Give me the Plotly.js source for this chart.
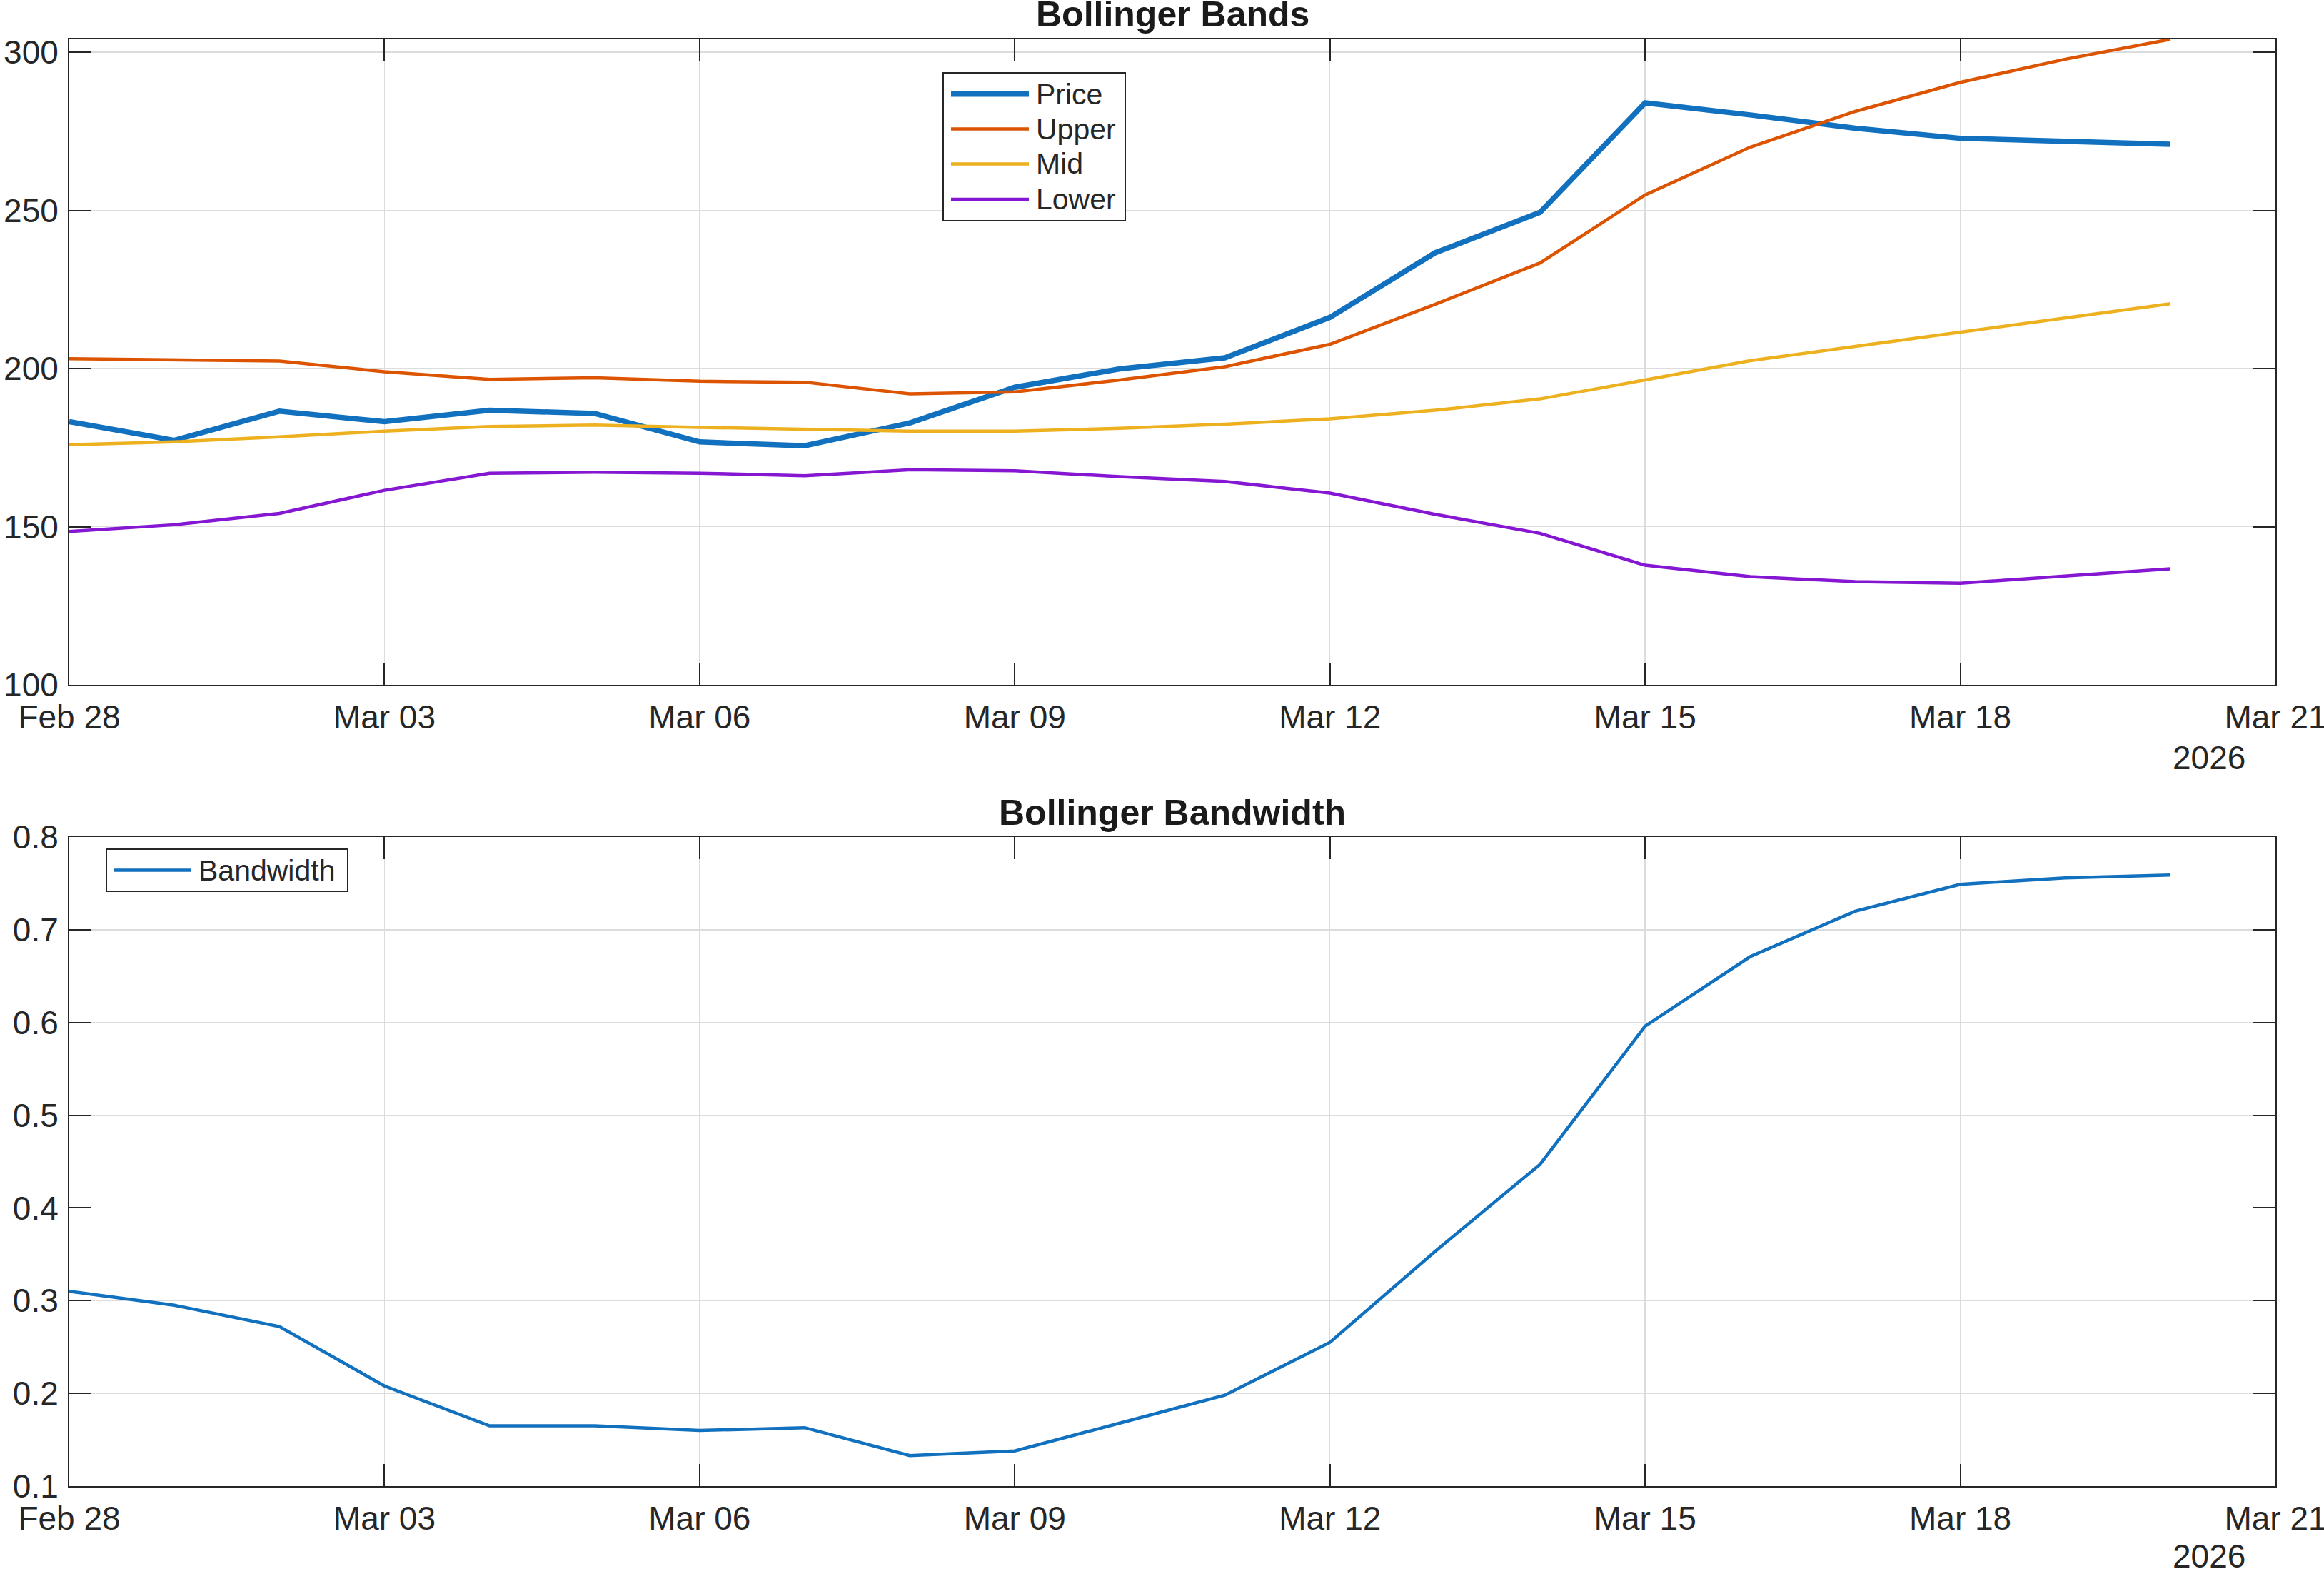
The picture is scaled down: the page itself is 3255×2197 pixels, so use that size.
<!DOCTYPE html>
<html>
<head>
<meta charset="utf-8">
<script src="https://cdn.plot.ly/plotly-3.0.1.min.js"></script>
<style>html,body{margin:0;padding:0;background:#fff;}#chart{width:3255px;height:2197px;}</style>
</head>
<body>
<div id="chart"></div>
<script>
// ---- data ----
const dates = ["2026-02-28","2026-03-01","2026-03-02","2026-03-03","2026-03-04","2026-03-05","2026-03-06",
               "2026-03-07","2026-03-08","2026-03-09","2026-03-10","2026-03-11","2026-03-12","2026-03-13",
               "2026-03-14","2026-03-15","2026-03-16","2026-03-17","2026-03-18","2026-03-19","2026-03-20"];
const price = [183.2,177.3,186.5,183.2,186.8,185.8,176.8,175.6,182.8,194.1,199.9,203.4,216.2,236.6,249.4,284.0,280.2,276.0,272.8,271.7,270.9];
const upper = [203.1,202.8,202.4,199.0,196.6,197.1,196.0,195.7,192.0,192.6,196.4,200.6,207.7,220.3,233.4,254.9,270.0,281.3,290.5,297.8,304.1];
const mid   = [175.9,176.8,178.4,180.2,181.7,182.1,181.4,180.9,180.2,180.2,181.1,182.4,184.1,186.8,190.4,196.4,202.5,207.0,211.5,216.0,220.5];
const lower = [148.5,150.6,154.2,161.5,166.9,167.2,166.9,166.1,168.0,167.7,165.8,164.3,160.6,153.9,147.9,137.8,134.2,132.6,132.1,134.5,136.7];
const bandwidth = [0.310,0.295,0.272,0.208,0.165,0.165,0.160,0.163,0.133,0.138,0.168,0.198,0.255,0.353,0.447,0.596,0.671,0.720,0.749,0.756,0.759];
const bandNames = ["Price","Upper","Mid","Lower"];
const bwName = "Bandwidth";
const titles = ["Bollinger Bands","Bollinger Bandwidth"];
const yearLabel = "2026";

// ---- style ----
const W = 3255, H = 2197;
const L = 97, R = 3187, T1 = 55, B1 = 959, T2 = 1172, B2 = 2081;
const colors = ["#1171BE","#DD5400","#EDB120","#8516D1"];
const widths = [7.5, 4.5, 4.5, 4.5];
const FONT = "Liberation Sans, Arial, Helvetica, sans-serif";
const AX = "#262626";
const px = x => x / W;
const py = y => 1 - y / H;

const series = [price, upper, mid, lower];
const traces = series.map((s, i) => ({
  type: "scatter", mode: "lines", x: dates, y: s, name: bandNames[i],
  xaxis: "x", yaxis: "y", showlegend: false,
  line: {color: colors[i], width: widths[i]}
}));
traces.push({
  type: "scatter", mode: "lines", x: dates, y: bandwidth, name: bwName,
  xaxis: "x2", yaxis: "y2", showlegend: false,
  line: {color: colors[0], width: 4.5}
});

function xax(anchor, dom) {
  return {
    type: "date", domain: dom, anchor: anchor,
    range: ["2026-02-28", "2026-03-21 00:00:01"],
    tick0: "2026-02-28", dtick: 3 * 86400000, tickformat: "%b %d",
    ticks: "inside", ticklen: 31, tickwidth: 2, tickcolor: AX,
    showline: true, linewidth: 2, linecolor: AX, mirror: "ticks",
    showgrid: true, gridcolor: "#dcdcdc", gridwidth: 1.5, zeroline: false,
    ticklabelstandoff: 4, ticklabeloverflow: "allow",
    tickfont: {family: FONT, size: 46, color: AX}, automargin: false
  };
}
function yax(anchor, dom, range, dtick, fmt) {
  return {
    domain: dom, anchor: anchor, range: range, tick0: range[0], dtick: dtick, tickformat: fmt,
    ticks: "inside", ticklen: 31, tickwidth: 2, tickcolor: AX,
    showline: true, linewidth: 2, linecolor: AX, mirror: "ticks",
    showgrid: true, gridcolor: "#dcdcdc", gridwidth: 1.5, zeroline: false,
    ticklabelstandoff: 4, ticklabeloverflow: "allow",
    tickfont: {family: FONT, size: 46, color: AX}, automargin: false
  };
}

const shapes = [];
const annotations = [];

// titles
annotations.push({xref: "paper", yref: "paper", x: px((L + R) / 2), y: py(20), xanchor: "center", yanchor: "middle",
  text: titles[0], showarrow: false, font: {family: FONT, size: 50, color: "#1a1a1a", weight: "bold"}});
annotations.push({xref: "paper", yref: "paper", x: px((L + R) / 2), y: py(1138), xanchor: "center", yanchor: "middle",
  text: titles[1], showarrow: false, font: {family: FONT, size: 50, color: "#1a1a1a", weight: "bold"}});
// year labels
[[B1, 102], [B2, 98]].forEach(([b, d]) => annotations.push({xref: "paper", yref: "paper", x: px(3147), y: py(b + d), xanchor: "right", yanchor: "middle",
  text: yearLabel, showarrow: false, font: {family: FONT, size: 46, color: AX}}));

// legend 1 (custom, MATLAB style)
shapes.push({type: "rect", xref: "paper", yref: "paper", x0: px(1321), x1: px(1576), y0: py(102), y1: py(309),
  line: {color: AX, width: 2}, fillcolor: "#ffffff", layer: "above"});
const rowY = [131.7, 180.5, 229.5, 279];
bandNames.forEach((n, i) => {
  shapes.push({type: "line", xref: "paper", yref: "paper", x0: px(1332), x1: px(1441), y0: py(rowY[i]), y1: py(rowY[i]),
    line: {color: colors[i], width: widths[i]}, layer: "above"});
  annotations.push({xref: "paper", yref: "paper", x: px(1449), y: py(rowY[i]), xanchor: "left", yanchor: "middle",
    text: n, showarrow: false, font: {family: FONT, size: 41, color: AX}});
});
// legend 2
shapes.push({type: "rect", xref: "paper", yref: "paper", x0: px(149), x1: px(487), y0: py(1189), y1: py(1248),
  line: {color: AX, width: 2}, fillcolor: "#ffffff", layer: "above"});
shapes.push({type: "line", xref: "paper", yref: "paper", x0: px(160), x1: px(268), y0: py(1218.5), y1: py(1218.5),
  line: {color: colors[0], width: 4.5}, layer: "above"});
annotations.push({xref: "paper", yref: "paper", x: px(276), y: py(1218.5), xanchor: "left", yanchor: "middle",
  text: bwName, showarrow: false, font: {family: FONT, size: 41, color: AX}});

const layout = {
  width: W, height: H,
  margin: {l: 0, r: 0, t: 0, b: 0, pad: 0},
  paper_bgcolor: "#ffffff", plot_bgcolor: "#ffffff",
  showlegend: false,
  font: {family: FONT, color: AX},
  xaxis: xax("y", [px(L), px(R)]),
  yaxis: yax("x", [py(B1), py(T1)], [100, 304.1], 50, "d"),
  xaxis2: xax("y2", [px(L), px(R)]),
  yaxis2: yax("x2", [py(B2), py(T2)], [0.1, 0.8], 0.1, ".1f"),
  shapes: shapes,
  annotations: annotations
};

Plotly.newPlot("chart", traces, layout, {staticPlot: true, displayModeBar: false});
</script>
</body>
</html>
